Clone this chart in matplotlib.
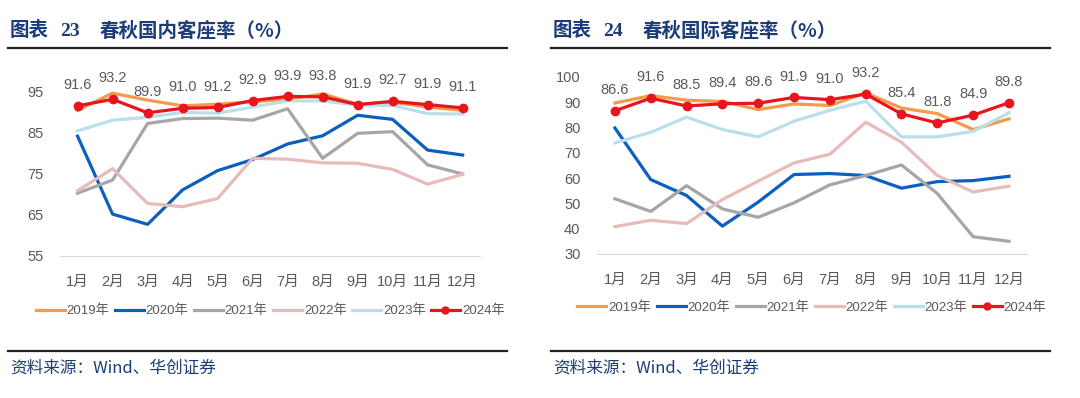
import matplotlib.pyplot as plt
from matplotlib.lines import Line2D

plt.rcParams['font.family'] = ['Liberation Sans', 'Noto Sans CJK SC']

months = ["1月", "2月", "3月", "4月", "5月", "6月", "7月", "8月", "9月", "10月", "11月", "12月"]
years = ["2019年", "2020年", "2021年", "2022年", "2023年", "2024年"]

# 国内客座率
dom_2019 = [90.5, 94.7, 93.0, 91.6, 92.0, 92.6, 93.2, 94.5, 92.0, 92.5, 91.3, 90.5]
dom_2020 = [84.2, 65.2, 62.7, 71.1, 75.8, 78.5, 82.3, 84.3, 89.3, 88.3, 80.8, 79.6]
dom_2021 = [70.3, 73.5, 87.3, 88.5, 88.6, 88.1, 90.9, 78.8, 84.9, 85.3, 77.2, 75.0]
dom_2022 = [70.9, 76.3, 67.8, 67.0, 69.0, 78.8, 78.6, 77.7, 77.6, 76.1, 72.5, 74.9]
dom_2023 = [85.5, 88.1, 88.8, 90.0, 89.8, 91.3, 92.8, 92.8, 91.8, 91.7, 89.7, 89.6]
dom_2024 = [91.6, 93.2, 89.9, 91.0, 91.2, 92.9, 93.9, 93.8, 91.9, 92.7, 91.9, 91.1]

# 国际客座率
intl_2019 = [89.7, 92.6, 90.8, 90.3, 87.1, 89.3, 88.7, 93.7, 87.7, 85.5, 79.2, 83.4]
intl_2020 = [79.8, 59.4, 53.1, 41.0, 50.5, 61.4, 61.8, 61.0, 56.0, 58.6, 59.0, 60.7]
intl_2021 = [51.8, 46.8, 57.0, 47.8, 44.5, 50.2, 57.3, 61.0, 65.2, 53.9, 36.8, 35.0]
intl_2022 = [40.8, 43.3, 42.0, 51.5, 58.8, 66.0, 69.4, 82.1, 74.2, 61.0, 54.5, 56.8]
intl_2023 = [73.9, 78.1, 84.1, 79.2, 76.3, 82.5, 86.8, 90.4, 76.3, 76.3, 78.5, 85.8]
intl_2024 = [86.6, 91.6, 88.5, 89.4, 89.6, 91.9, 91.0, 93.2, 85.4, 81.8, 84.9, 89.8]

colors = ["#F59A4A", "#0B5FBF", "#A6A6A6", "#E8BBBA", "#B9E0EA", "#E8141E"]
title_color = "#1B3C78"
text_gray = "#595959"


def draw_panel(ax, series, yticks, ylim):
    x = list(range(1, 13))
    for i, vals in enumerate(series[:-1]):
        ax.plot(x, vals, color=colors[i], lw=2.3, zorder=2 + i)
    last = series[-1]
    ax.plot(x, last, color=colors[5], lw=2.3, marker="o", ms=6, zorder=10)
    for xi, v in zip(x, last):
        ax.annotate(f"{v:.1f}", (xi, v), xytext=(0, 15), textcoords="offset points",
                    ha="center", va="center", fontsize=10.5, color=text_gray,
                    annotation_clip=False)
    ax.set_xlim(0.5, 12.5)
    ax.set_ylim(*ylim)
    ax.set_yticks(yticks)
    ax.set_xticks(x)
    ax.set_xticklabels(months)
    ax.tick_params(length=0, labelsize=10.5, labelcolor=text_gray)
    ax.tick_params(axis="x", pad=14)
    ax.tick_params(axis="y", pad=12)
    for s in ["top", "right", "left"]:
        ax.spines[s].set_visible(False)
    ax.spines["bottom"].set_color("#D9D9D9")
    handles = [Line2D([], [], color=colors[i], lw=2.3) for i in range(5)]
    handles.append(Line2D([], [], color=colors[5], lw=2.3, marker="o", ms=5))
    ax.legend(handles, years, loc="upper center", bbox_to_anchor=(0.5, -0.2), ncol=6,
              frameon=False, fontsize=9.5, labelcolor=text_gray, handlelength=2.2,
              handletextpad=0.15, columnspacing=0.4)


fig = plt.figure(figsize=(10.8, 3.98), dpi=100)

ax1 = fig.add_axes([0.0556, 0.357, 0.389, 0.4636])
draw_panel(ax1, [dom_2019, dom_2020, dom_2021, dom_2022, dom_2023, dom_2024],
           [55, 65, 75, 85, 95], (55, 100))

ax2 = fig.add_axes([0.5528, 0.362, 0.398, 0.4447])
draw_panel(ax2, [intl_2019, intl_2020, intl_2021, intl_2022, intl_2023, intl_2024],
           list(range(30, 101, 10)), (30, 100))

# titles, rules and sources
for x0, x1, num, name in [(10, 507, "23", "春秋国内客座率（%）"),
                          (553, 1050, "24", "春秋国际客座率（%）")]:
    fig.text(x0 / 1080, 1 - 31 / 398, "图表", fontsize=14, fontweight="bold",
             color=title_color, va="center", family=["Noto Sans CJK SC"])
    fig.text((x0 + 50) / 1080, 1 - 31 / 398, num, fontsize=14, fontweight="bold",
             color=title_color, va="center", family=["Liberation Serif"])
    fig.text((x0 + 90) / 1080, 1 - 31 / 398, name, fontsize=14, fontweight="bold",
             color=title_color, va="center", family=["Noto Sans CJK SC"])
    fig.add_artist(Line2D([x0 / 1080 - 0.002, x1 / 1080], [1 - 48 / 398] * 2,
                          color="#222222", lw=1.6))
    fig.add_artist(Line2D([x0 / 1080 - 0.002, x1 / 1080], [1 - 351 / 398] * 2,
                          color="#222222", lw=1.6))
    fig.text(x0 / 1080, 1 - 368 / 398, "资料来源：Wind、华创证券", fontsize=12,
             style="italic", color=title_color, va="center",
             family=["Noto Sans CJK SC"])

fig.savefig("out.png", dpi=100)
